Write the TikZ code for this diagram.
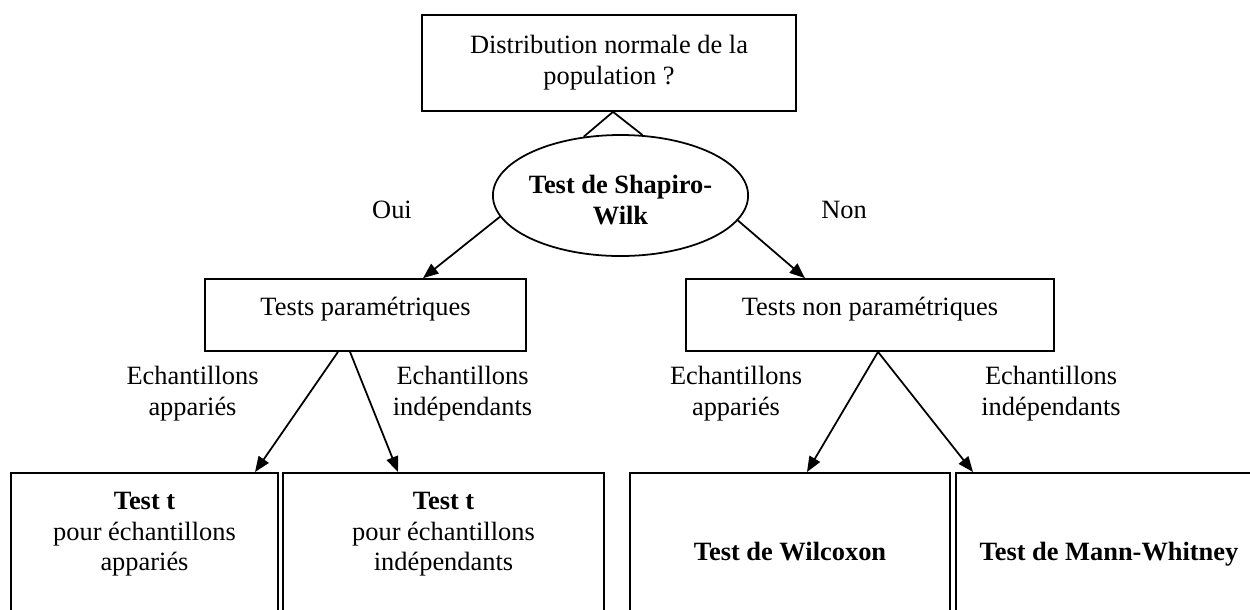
\documentclass[tikz,border=0pt]{standalone}
\usepackage{fontspec}
\setmainfont{Liberation Serif}
\usetikzlibrary{shapes.geometric,arrows.meta,calc}

\tikzset{
    box/.style={draw, rectangle, line width=0.8pt, inner sep=0pt, align=center},
    ovalbox/.style={draw, ellipse, line width=0.8pt, inner sep=0pt, inner xsep=-1.5pt,
        align=center, font=\fontsize{12}{14}\selectfont\bfseries},
    tip/.style={line width=0.8pt, -{Triangle[length=7pt,width=5.5pt]}},
    link/.style={line width=0.8pt},
    lbl/.style={align=center, inner sep=0pt}
}

\begin{document}
\begin{tikzpicture}[x=0.4545pt, y=-0.4545pt, font=\fontsize{12}{14}\selectfont]
    \pgfmathsetmacro\lowtop{472};
    \pgfmathsetmacro\midrow{315};

    \useasboundingbox (0,0) rectangle (1250,609);
    \clip (0,0) rectangle (1250,609);

    \node[box, minimum width=170pt, minimum height=43.6pt] (dist) at (609,63)
        {Distribution normale de la\\population ?};
    \node[ovalbox, minimum width=116pt, minimum height=55pt, text height=26.5pt,
        text depth=0pt] (shap) at (620.5,195.5) {Test de Shapiro-\\Wilk};

    \node[box, minimum width=145.9pt, minimum height=32.7pt, text height=8pt,
        text depth=8pt] (para) at (365.5,\midrow) {Tests paramétriques};
    \node[box, minimum width=167.3pt, minimum height=32.7pt, text height=8pt,
        text depth=8pt] (npara) at (870,\midrow) {Tests non paramétriques};

    \node[box, anchor=north, minimum width=121.4pt, text height=44.5pt, text depth=31.8pt]
        (tpair) at (144.5,\lowtop) {\textbf{Test t}\\pour échantillons\\appariés};
    \node[box, anchor=north, minimum width=145.9pt, text height=44.5pt, text depth=31.8pt]
        (tind) at (443.5,\lowtop) {\textbf{Test t}\\pour échantillons\\indépendants};
    \node[box, anchor=north, minimum width=145.5pt, text height=40pt, text depth=36.4pt]
        (wilc) at (790,\lowtop) {\textbf{Test de Wilcoxon}};
    \node[box, anchor=north, minimum width=139.1pt, text height=40pt, text depth=36.4pt]
        (mann) at (1109,\lowtop) {\textbf{Test de Mann-Whitney}};

    \node[lbl] (oui) at (392,209.5) {Oui};
    \node[lbl] (non) at (844,209.5) {Non};
    \foreach \x/\txt [count=\i] in {192.5/appariés, 462.5/indépendants,
        736/appariés, 1051/indépendants}
        \node[lbl] (ech\i) at (\x,394) {Echantillons\\\txt};

    \draw[link] ($(dist.south)+(4,0)$) -- (shap.122);
    \draw[link] ($(dist.south)+(4,0)$) -- (shap.70);
    \draw[tip] (shap.190) -- ($(para.north)+(57.5,0)$);
    \draw[tip] (shap.348) -- ($(npara.north)+(-65,0)$);
    \draw[tip] ($(para.south)+(-27.5,0)$) -- ($(tpair.north)+(110.5,0)$);
    \draw[tip] ($(para.south)+(-15.5,0)$) -- ($(tind.north)+(-45.5,0)$);
    \draw[tip] ($(npara.south)+(8,0)$) -- ($(wilc.north)+(17,0)$);
    \draw[tip] ($(npara.south)+(8,0)$) -- ($(mann.north)+(-136,0)$);
\end{tikzpicture}
\end{document}
